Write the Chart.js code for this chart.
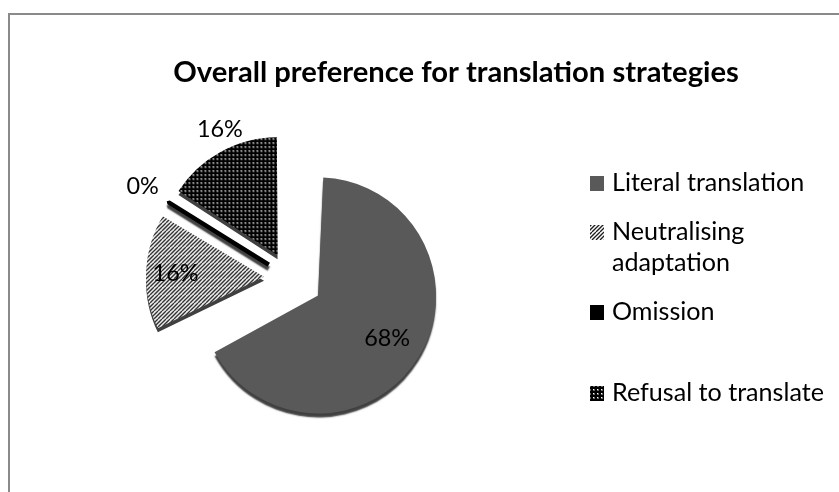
<!DOCTYPE html>
<html><head><meta charset="utf-8">
<script src="https://cdn.jsdelivr.net/npm/chart.js@4.4.1/dist/chart.umd.min.js"></script>
<style>
html,body{margin:0;padding:0;background:#fff;overflow:hidden}
#wrap{position:relative;width:839px;height:492px;overflow:hidden;background:#fff}
#frame{position:absolute;left:8px;top:13px;width:900px;height:600px;border-left:2px solid #8a8a8a;border-top:2px solid #8a8a8a;pointer-events:none}
canvas{position:absolute;left:0;top:0}
</style></head><body>
<div id="wrap"><canvas id="c" width="839" height="492"></canvas><div id="frame"></div></div>
<script>
// ---- data ----
const chartTitle = 'Overall preference for translation strategies';
const categories = ['Literal translation', 'Neutralising adaptation', 'Omission', 'Refusal to translate'];
const shares = [68, 16, 0.4, 16];

// ---- styling ----
const FONT = 'Lato, "Open Sans", sans-serif';
const pieRadius = 118;
function fitSize(text, weight, target) {
  const g = document.createElement('canvas').getContext('2d');
  g.font = weight + ' 100px ' + FONT;
  return 100 * target / g.measureText(text).width;
}
const titleSize = fitSize(chartTitle, 'bold', 566);
const legendSize = fitSize('Refusal to translate', 'normal', 212);
const labelSize = fitSize('68%', 'normal', 46);

function hatchPattern() {
  const s = 8, c = document.createElement('canvas'); c.width = c.height = s;
  const g = c.getContext('2d');
  g.fillStyle = '#fff'; g.fillRect(0, 0, s, s);
  g.strokeStyle = '#1e1e1e'; g.lineWidth = 1.3;
  for (let k = -s; k <= 2 * s; k += 4) { g.beginPath(); g.moveTo(k, s); g.lineTo(k + s, 0); g.stroke(); }
  return g.createPattern(c, 'repeat');
}
function dotPattern() {
  const s = 4, c = document.createElement('canvas'); c.width = c.height = s;
  const g = c.getContext('2d');
  g.fillStyle = '#000'; g.fillRect(0, 0, s, s);
  g.fillStyle = '#666'; g.fillRect(1, 1, 2, 2);
  g.fillStyle = '#fff'; g.fillRect(1, 1, 1, 1);
  return g.createPattern(c, 'repeat');
}
const fills = ['#595959', hatchPattern(), '#000000', dotPattern()];

// radial explosion (px) of each slice and label placement
const explode = [33, 26, 25, 26];
const labelFactor = [0.69, 0.75, 1.26, 1.17];
const labelShiftDeg = [0, 0, 0, 4];
const legendBaselines = [191, 240, 320, 401];

const explodeFix = {
  id: 'explodeFix',
  afterDatasetsUpdate(chart) {
    chart.getDatasetMeta(0).data.forEach(arc => {
      const o = (arc.options.offset || 0) / 4;
      const fix = 1 - Math.sin(Math.min(Math.PI, arc.circumference || 0));
      arc.outerRadius = pieRadius - o * fix;
    });
  },
  beforeDatasetsDraw(chart) {
    const ctx = chart.ctx;
    ctx.save();
    ctx.shadowColor = 'rgba(0,0,0,0.75)';
    ctx.shadowOffsetY = 4;
    ctx.shadowBlur = 1.5;
  },
  afterDatasetsDraw(chart) { chart.ctx.restore(); }
};

const decor = {
  id: 'decor',
  afterDraw(chart) {
    const ctx = chart.ctx;
    const total = shares.reduce((a, b) => a + b, 0);
    ctx.save();
    ctx.fillStyle = '#000';
    // data labels
    ctx.font = labelSize + 'px ' + FONT;
    ctx.textAlign = 'center'; ctx.textBaseline = 'middle';
    chart.getDatasetMeta(0).data.forEach((arc, i) => {
      const mid = (arc.startAngle + arc.endAngle) / 2;
      const d = (arc.options.offset || 0) / 4;
      const vx = arc.x + Math.cos(mid) * d, vy = arc.y + Math.sin(mid) * d;
      const a = mid + labelShiftDeg[i] * Math.PI / 180;
      const r = labelFactor[i] * pieRadius;
      ctx.fillText(Math.round(shares[i] / total * 100) + '%', vx + Math.cos(a) * r, vy + Math.sin(a) * r);
    });
    // title
    ctx.font = 'bold ' + titleSize + 'px ' + FONT;
    ctx.textBaseline = 'alphabetic';
    ctx.fillText(chartTitle, 456, 82);
    // legend
    ctx.font = legendSize + 'px ' + FONT;
    ctx.textAlign = 'left';
    const maxW = 226;
    categories.forEach((name, i) => {
      const words = name.split(' ');
      const lines = [];
      let cur = '';
      words.forEach(w => {
        const t = cur ? cur + ' ' + w : w;
        if (cur && ctx.measureText(t).width > maxW) { lines.push(cur); cur = w; } else cur = t;
      });
      lines.push(cur);
      const base = legendBaselines[i];
      ctx.fillStyle = fills[i];
      ctx.fillRect(590, base - 15, 14, 15);
      ctx.fillStyle = '#000';
      lines.forEach((ln, j) => ctx.fillText(ln, 612, base + j * 31));
    });
    ctx.restore();
  }
};

new Chart(document.getElementById('c'), {
  type: 'pie',
  data: {
    labels: categories,
    datasets: [{
      data: shares,
      backgroundColor: fills,
      borderWidth: [0, 0, 4.5, 0],
      borderColor: '#000',
      offset: explode.map(d => d * 4),
      radius: pieRadius,
      clip: false
    }]
  },
  options: {
    responsive: false,
    animation: false,
    events: [],
    layout: { padding: { left: 0, right: 259, top: 64, bottom: 0 } },
    plugins: { legend: { display: false }, title: { display: false }, tooltip: { enabled: false } }
  },
  plugins: [explodeFix, decor]
});
</script>
</body></html>
